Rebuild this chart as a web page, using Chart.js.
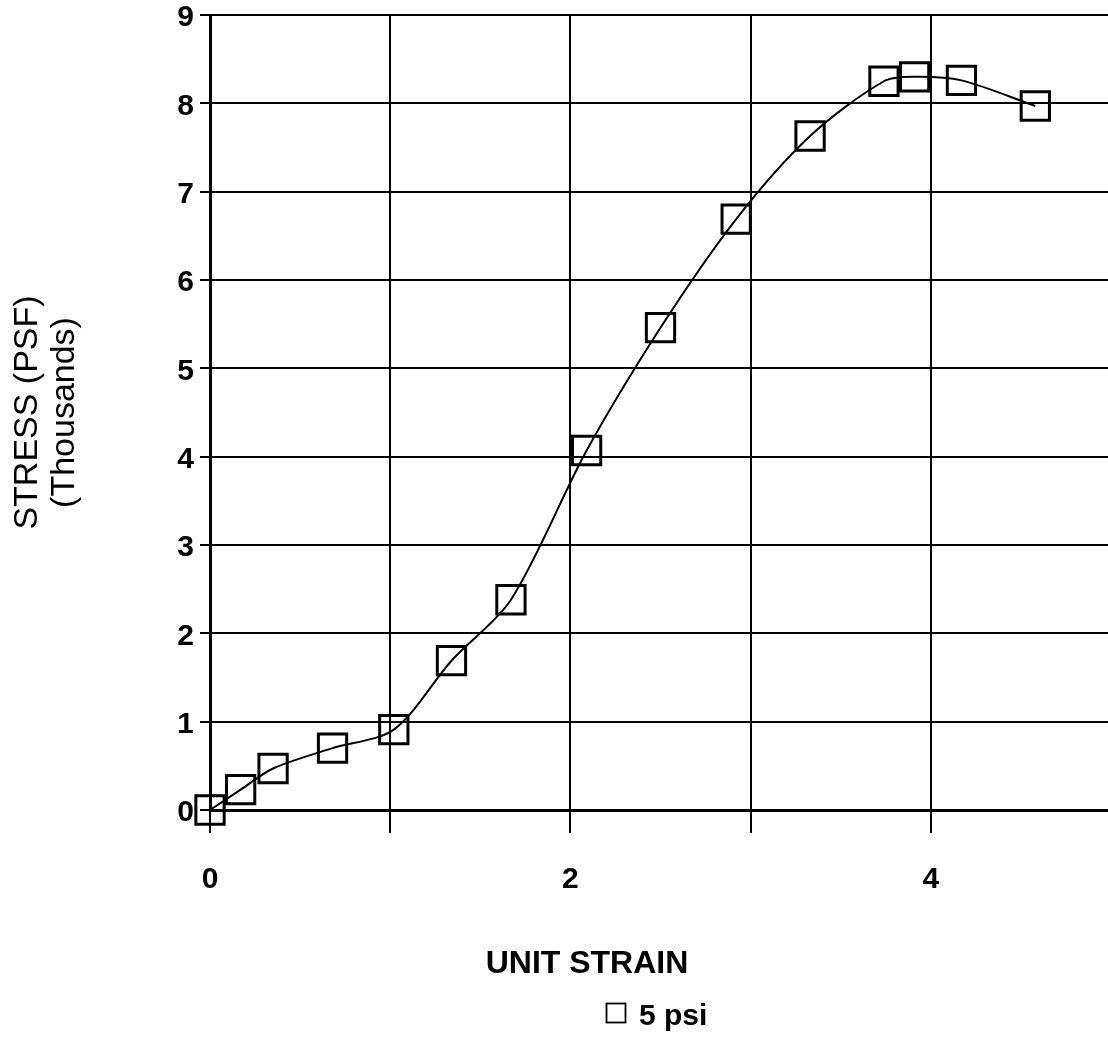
<!DOCTYPE html>
<html>
<head>
<meta charset="utf-8">
<script src="https://cdn.jsdelivr.net/npm/chart.js@4/dist/chart.umd.min.js"></script>
<style>
  html, body { margin: 0; padding: 0; background: #fff; overflow: hidden; width: 1108px; height: 1042px; }
  #wrap { position: relative; width: 1114px; height: 1042px; }
  canvas { display: block; }
</style>
</head>
<body>
<div id="wrap"><canvas id="c" width="1114" height="1042"></canvas></div>
<script>
// ---- data ----
const strainValues = [0, 0.17, 0.35, 0.68, 1.02, 1.34, 1.67, 2.09, 2.50, 2.92, 3.33, 3.74, 3.91, 4.17, 4.58];
const stressValues = [0, 0.23, 0.47, 0.70, 0.91, 1.69, 2.38, 4.07, 5.46, 6.69, 7.63, 8.25, 8.30, 8.26, 7.97];
const seriesName = '5 psi';
const xTitle = 'UNIT STRAIN';
const yTitle = ['STRESS (PSF)', '(Thousands)'];
const xRange = [0, 5];
const yRange = [0, 9];
const xLabelled = [0, 2, 4];

const points = strainValues.map((x, i) => ({ x: x, y: stressValues[i] }));

const FONT = '"Liberation Sans", Arial, Helvetica, sans-serif';

const extraText = {
  id: 'extraText',
  afterDraw(chart) {
    const ctx = chart.ctx;
    ctx.save();
    ctx.fillStyle = '#000';
    // x-axis title
    ctx.font = 'bold 32px ' + FONT;
    ctx.textAlign = 'center';
    ctx.textBaseline = 'alphabetic';
    ctx.fillText(xTitle, 587, 973);
    // legend
    ctx.strokeStyle = '#000';
    ctx.lineWidth = 1.8;
    ctx.strokeRect(606.5, 1003.5, 19, 19);
    ctx.font = 'bold 30px ' + FONT;
    ctx.textAlign = 'left';
    ctx.fillText(seriesName, 639, 1025);
    ctx.restore();
  }
};

new Chart(document.getElementById('c'), {
  type: 'scatter',
  data: {
    datasets: [{
      label: seriesName,
      data: points,
      showLine: true,
      tension: 0.3,
      borderColor: '#000',
      borderWidth: 2,
      pointStyle: 'rect',
      pointRadius: 20,
      pointBorderWidth: 3,
      pointBorderColor: '#000',
      pointBackgroundColor: 'rgba(0,0,0,0)',
      fill: false,
      clip: false
    }]
  },
  options: {
    responsive: false,
    animation: false,
    events: [],
    layout: { autoPadding: false, padding: { top: 15, right: 3, left: 0, bottom: 0 } },
    plugins: {
      legend: { display: false },
      tooltip: { enabled: false }
    },
    scales: {
      x: {
        type: 'linear',
        min: xRange[0],
        max: xRange[1],
        afterFit(scale) {
          scale.height = 232;
          scale.paddingLeft = 0;
          scale.paddingRight = 0;
        },
        border: { display: true, color: '#000', width: 3 },
        grid: { color: '#000', lineWidth: 2, tickLength: 23, tickColor: '#000', tickWidth: 2 },
        ticks: {
          stepSize: 1,
          padding: 29,
          color: '#000',
          maxRotation: 0,
          autoSkip: false,
          font: { family: FONT, size: 30, weight: 'bold', lineHeight: 1.2 },
          callback: (v) => (xLabelled.includes(v) ? String(v) : '')
        }
      },
      y: {
        type: 'linear',
        min: yRange[0],
        max: yRange[1],
        afterFit(scale) {
          scale.width = 210;
          scale.paddingTop = 0;
          scale.paddingBottom = 0;
        },
        border: { display: true, color: '#000', width: 3 },
        grid: { color: '#000', lineWidth: 2, tickLength: 10, tickColor: '#000', tickWidth: 2 },
        ticks: {
          stepSize: 1,
          padding: 6,
          labelOffset: 3,
          color: '#000',
          font: { family: FONT, size: 30, weight: 'bold', lineHeight: 1.0 }
        },
        title: {
          display: true,
          text: yTitle,
          color: '#000',
          padding: { top: 9, bottom: 0 },
          font: { family: FONT, size: 34, weight: 'normal', lineHeight: 1.1 }
        }
      }
    }
  },
  plugins: [extraText]
});
</script>
</body>
</html>
